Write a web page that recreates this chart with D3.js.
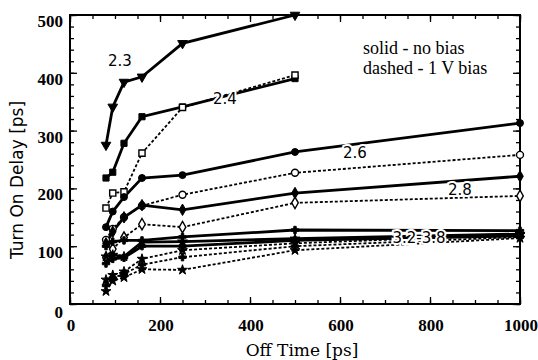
<!DOCTYPE html>
<html>
<head>
<meta charset="utf-8">
<script src="https://cdn.jsdelivr.net/npm/d3@7/dist/d3.min.js"></script>
<style>
	body { margin: 0; background: #fff; }
	text { fill: #000; }
</style>
</head>
<body>
<svg id="chart" width="538" height="360"></svg>
<script>
const offTimes = [80, 95, 120, 160, 250, 500, 1000];

// solid - no bias
const solid23 = [275, 341, 384, 393, 451, 500];
const solid24 = [218, 228, 278, 324, 341, 390];
const solid26 = [133, 160, 185, 218, 223, 263, 313];
const solid28 = [105, 125, 150, 171, 163, 192, 221];
const solid32 = [100, 108, 110, 110, 116, 128, 127];
const solid35 = [82, 85, 82, 107, 108, 113, 121];
const solid38 = [70, 78, 80, 100, 100, 110, 118];

// dashed - 1 V bias
const dashed24 = [166, 192, 194, 261, 340, 396];
const dashed26 = [111, 130, 150, 170, 189, 227, 258];
const dashed28 = [80, 95, 115, 138, 133, 175, 187];
const dashed32 = [42, 50, 56, 78, 93, 105, 120];
const dashed35 = [32, 45, 52, 68, 81, 100, 116];
const dashed38 = [22, 40, 46, 60, 59, 93, 114];

const curveLabels = ['2.3', '2.4', '2.6', '2.8', '3.2-3.8'];
const legendLines = ['solid - no bias', 'dashed - 1 V bias'];

const xTicks = [0, 200, 400, 600, 800, 1000];
const yTicks = [0, 100, 200, 300, 400, 500];

const margin = { left: 70, right: 18, top: 15, bottom: 56 };
const width = 538;
const height = 360;

const svg = d3.select('#chart');

const x = d3.scaleLinear().domain([0, 1000]).range([margin.left, width - margin.right]);
const y = d3.scaleLinear().domain([0, 500]).range([height - margin.bottom, margin.top]);

const series = [
	{ values: solid23, dashed: false, shape: 'tri' },
	{ values: solid24, dashed: false, shape: d3.symbolSquare },
	{ values: dashed24, dashed: true, shape: d3.symbolSquare },
	{ values: solid26, dashed: false, shape: d3.symbolCircle },
	{ values: dashed26, dashed: true, shape: d3.symbolCircle },
	{ values: solid28, dashed: false, shape: d3.symbolDiamond },
	{ values: dashed28, dashed: true, shape: d3.symbolDiamond },
	{ values: solid32, dashed: false, shape: d3.symbolCross, small: true },
	{ values: solid35, dashed: false, shape: d3.symbolStar, small: true },
	{ values: solid38, dashed: false, shape: d3.symbolCross, small: true },
	{ values: dashed32, dashed: true, shape: d3.symbolStar, small: true },
	{ values: dashed35, dashed: true, shape: d3.symbolCross, small: true },
	{ values: dashed38, dashed: true, shape: d3.symbolStar, small: true }
];

// axes, ticks point inward on all four sides
const x0 = x.range()[0];
const x1 = x.range()[1];
const y0 = y.range()[0];
const y1 = y.range()[1];

function drawTicks(axis, transform, values, size) {
	svg.append('g')
		.attr('transform', transform)
		.call(axis.tickValues(values).tickSizeInner(size).tickSizeOuter(0).tickFormat(''))
		.call(g => g.select('.domain').remove())
		.call(g => g.selectAll('line').attr('stroke', '#000').attr('stroke-width', 1.3));
}

const xMinor = d3.range(0, 1001, 50);
const yMinor = d3.range(0, 501, 20);

drawTicks(d3.axisBottom(x), `translate(0,${y0})`, xMinor, -4);
drawTicks(d3.axisBottom(x), `translate(0,${y0})`, xTicks, -7);
drawTicks(d3.axisTop(x), `translate(0,${y1})`, xMinor, -4);
drawTicks(d3.axisTop(x), `translate(0,${y1})`, xTicks, -7);
drawTicks(d3.axisLeft(y), `translate(${x0},0)`, yMinor, -4);
drawTicks(d3.axisLeft(y), `translate(${x0},0)`, yTicks, -7);
drawTicks(d3.axisRight(y), `translate(${x1},0)`, yMinor, -4);
drawTicks(d3.axisRight(y), `translate(${x1},0)`, yTicks, -7);

svg.append('rect')
	.attr('x', x0)
	.attr('y', y1)
	.attr('width', x1 - x0)
	.attr('height', y0 - y1)
	.attr('fill', 'none')
	.attr('stroke', '#000')
	.attr('stroke-width', 2);

// tick labels
svg.append('g')
	.selectAll('text')
	.data(xTicks)
	.join('text')
	.attr('x', d => x(d) + 1)
	.attr('y', y0 + 27)
	.attr('text-anchor', 'middle')
	.attr('font-family', 'Liberation Serif')
	.attr('font-weight', 'bold')
	.attr('font-size', 17)
	.text(d => d);

svg.append('g')
	.selectAll('text')
	.data(yTicks)
	.join('text')
	.attr('x', x0 - 7)
	.attr('y', d => y(d) + (d === 0 ? 14 : 12))
	.attr('text-anchor', 'end')
	.attr('font-family', 'Liberation Serif')
	.attr('font-weight', 'bold')
	.attr('font-size', 17)
	.text(d => d);

// axis titles
svg.append('text')
	.attr('x', 302)
	.attr('y', 356)
	.attr('text-anchor', 'middle')
	.attr('font-family', 'DejaVu Serif')
	.attr('font-size', 17)
	.text('Off Time [ps]');

svg.append('text')
	.attr('transform', 'translate(23,180) rotate(-90)')
	.attr('text-anchor', 'middle')
	.attr('font-family', 'DejaVu Sans')
	.attr('font-size', 17)
	.text('Turn On Delay [ps]');

// curves
const line = d3.line()
	.x((d, i) => x(offTimes[i]))
	.y(d => y(d));

const gLines = svg.append('g');

series.forEach(s => {
	gLines.append('path')
		.datum(s.values)
		.attr('d', line)
		.attr('fill', 'none')
		.attr('stroke', '#000')
		.attr('stroke-width', s.dashed ? 1.8 : 2.8)
		.attr('stroke-dasharray', s.dashed ? '3,2' : null);
});

series.forEach(s => {
	let sym;
	if (s.shape === 'tri') sym = d3.symbol().type(d3.symbolTriangle).size(40);
	else sym = d3.symbol().type(s.shape).size(s.small ? 30 : 38);
	const open = s.dashed && !s.small;
	gLines.append('g')
		.selectAll('path')
		.data(s.values)
		.join('path')
		.attr('transform', (d, i) => `translate(${x(offTimes[i])},${y(d)})${s.shape === 'tri' ? ' rotate(180)' : ''}`)
		.attr('d', sym)
		.attr('fill', open ? '#fff' : '#000')
		.attr('stroke', '#000')
		.attr('stroke-width', open ? 1.4 : 1);
});

// curve labels, with white halo cutting the lines
const labelPos = [[120, 66], [225, 104], [355, 158], [460, 195], [419, 243]];

svg.append('g')
	.selectAll('text')
	.data(curveLabels)
	.join('text')
	.attr('x', (d, i) => labelPos[i][0])
	.attr('y', (d, i) => labelPos[i][1])
	.attr('text-anchor', 'middle')
	.attr('font-family', 'DejaVu Sans')
	.attr('font-size', 15)
	.attr('stroke', '#fff')
	.attr('stroke-width', 4)
	.attr('paint-order', 'stroke')
	.text(d => d);

// legend note
svg.append('g')
	.selectAll('text')
	.data(legendLines)
	.join('text')
	.attr('x', 363)
	.attr('y', (d, i) => 54 + i * 20)
	.attr('font-family', 'Liberation Serif')
	.attr('font-size', 18)
	.text(d => d);
</script>
</body>
</html>
